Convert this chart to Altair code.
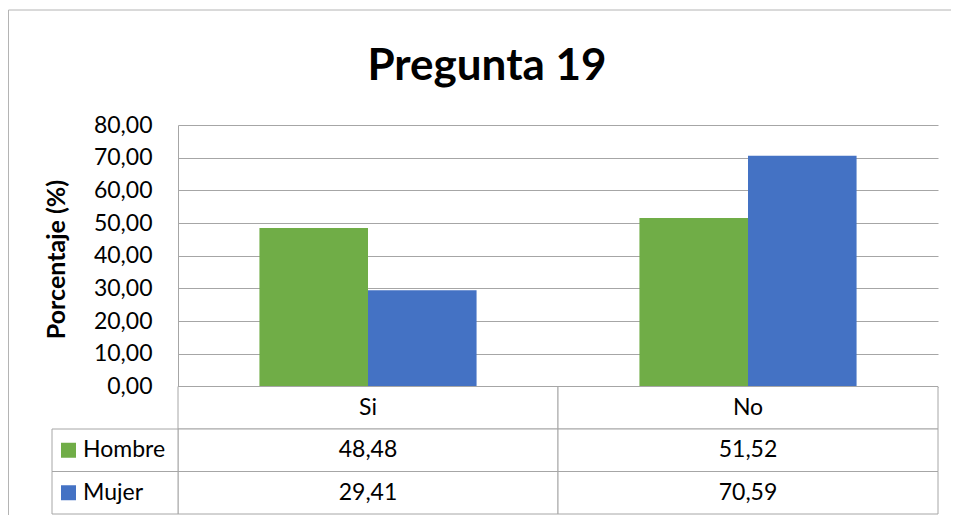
import altair as alt
import pandas as pd

# ---- data ----
categories = ["Si", "No"]
series = ["Hombre", "Mujer"]
hombre = [48.48, 51.52]
mujer = [29.41, 70.59]
colors = ["#70AD47", "#4472C4"]
y_ticks = [0, 10, 20, 30, 40, 50, 60, 70, 80]

GRID = "#a6a6a6"
BORDER = "#b4b4b4"
FONT = "Lato"
FS = 23

W = 760
H_BARS = 261.5
H_ALL = 389


def fmt(v):
    return f"{v:.2f}".replace(".", ",")


bars_df = pd.DataFrame({
    "cat": categories * 2,
    "serie": [series[0]] * len(categories) + [series[1]] * len(categories),
    "valor": hombre + mujer,
})

rows = ["_cat"] + series
t_cat, t_row, t_label = [], [], []
for c in categories:
    t_cat.append(c); t_row.append("_cat"); t_label.append(c)
for s, vals in zip(series, [hombre, mujer]):
    for c, v in zip(categories, vals):
        t_cat.append(c); t_row.append(s); t_label.append(fmt(v))
table_df = pd.DataFrame({"cat": t_cat, "row": t_row, "label": t_label})

legend_df = pd.DataFrame({"col": ["leg"] * len(series), "row": series})
one = pd.DataFrame({"k": [0]})

x_cat = alt.X("cat:N", sort=categories,
              scale=alt.Scale(domain=categories, paddingInner=0, paddingOuter=0),
              axis=None)
y_row = alt.Y("row:N", sort=rows,
              scale=alt.Scale(domain=rows, range=[H_BARS, H_ALL], paddingInner=0, paddingOuter=0),
              axis=None)
color_enc = alt.Color("serie:N", scale=alt.Scale(domain=series, range=colors), legend=None)

bars = alt.Chart(bars_df).mark_bar().encode(
    x=x_cat,
    xOffset=alt.XOffset("serie:N", sort=series,
                        scale=alt.Scale(domain=series, paddingInner=0, paddingOuter=0.75)),
    y=alt.Y("valor:Q",
            scale=alt.Scale(domain=[0, 80], range=[H_BARS, 0], nice=False, zero=True),
            axis=alt.Axis(values=y_ticks,
                          labelExpr="replace(format(datum.value, '.2f'), '.', ',')",
                          grid=True, gridColor=GRID, gridWidth=1,
                          domainColor=GRID, domainWidth=1,
                          ticks=False, tickSize=0, labelPadding=26,
                          labelFont=FONT, labelFontSize=FS, labelColor="black",
                          title="Porcentaje (%)", titleFont=FONT, titleFontSize=25,
                          titleFontWeight="bold", titleColor="black",
                          titleAngle=270, titleX=-114, titleY=134,
                          titleAlign="center", titleBaseline="alphabetic")),
    color=color_enc,
)

table_rect = alt.Chart(table_df).mark_rect(fill="white", stroke=GRID, strokeWidth=1).encode(
    x=x_cat, y=y_row)
table_text = alt.Chart(table_df).mark_text(font=FONT, fontSize=FS, color="black",
                                           baseline="middle").encode(
    x=x_cat, y=y_row, text="label:N")
table = alt.layer(table_rect, table_text)

x_leg = alt.X("col:N", scale=alt.Scale(domain=["leg"], range=[-126, 0],
                                       paddingInner=0, paddingOuter=0), axis=None)
leg_rect = alt.Chart(legend_df).mark_rect(fill="white", stroke=GRID, strokeWidth=1).encode(
    x=x_leg, y=y_row)
leg_text = alt.Chart(legend_df).mark_text(font=FONT, fontSize=FS, color="black",
                                          align="left", baseline="middle", dx=-32).encode(
    x=x_leg, y=y_row, text="row:N")
leg_sq = alt.Chart(legend_df).mark_square(size=225, opacity=1, filled=True,
                                          xOffset=-46.5).encode(
    x=x_leg, y=y_row,
    color=alt.Color("row:N", scale=alt.Scale(domain=series, range=colors), legend=None))
legend_col = alt.layer(leg_rect, leg_sq, leg_text)

border_left = alt.Chart(one).mark_rule(color=BORDER, strokeWidth=1).encode(
    x=alt.value(-169.5), y=alt.value(-115), y2=alt.value(H_ALL + 5))
border_top = alt.Chart(one).mark_rule(color=BORDER, strokeWidth=1).encode(
    x=alt.value(-169.5), x2=alt.value(W + 20), y=alt.value(-115))

chart = alt.layer(border_left, border_top, bars, table, legend_col).resolve_scale(
    x="independent", y="independent"
).properties(
    width=W, height=H_ALL,
    autosize="none",
    padding={"left": 170, "top": 117, "right": 13, "bottom": 1},
    title=alt.TitleParams("Pregunta 19", font=FONT, fontSize=44, fontWeight="bold",
                          color="black", anchor="middle", frame="group", dx=-71,
                          baseline="alphabetic", offset=-114),
    background="white",
).configure_view(stroke=None)

chart.save("out.html", embed_options={"renderer": "svg", "actions": False})
